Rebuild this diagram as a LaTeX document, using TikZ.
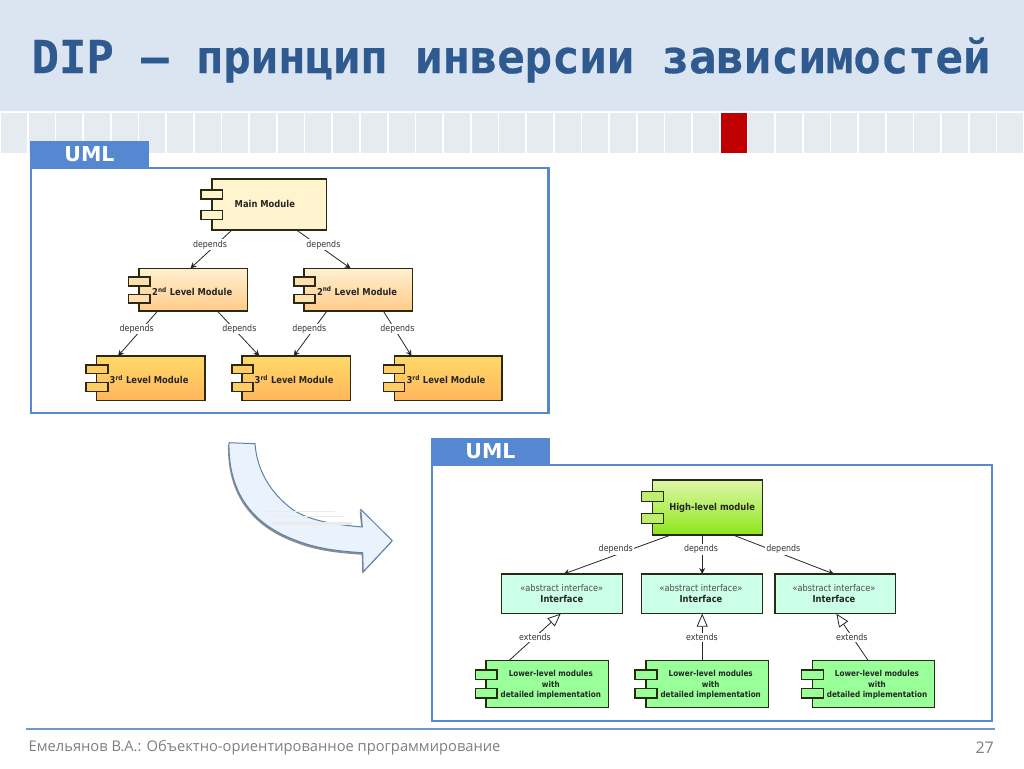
\documentclass[tikz,border=0pt]{standalone}
\usepackage{fontspec}
\setmainfont{DejaVu Sans}
\newfontfamily\titlemono[BoldFeatures={FakeBold=0.6}]{DejaVu Sans Mono}
\newfontfamily\footfont{Open Sans}
\newfontfamily\umlfont[FakeStretch=0.88]{DejaVu Sans}
\usetikzlibrary{arrows.meta}
\definecolor{bandblue}{HTML}{DBE5F1}
\definecolor{cellgrey}{HTML}{E6EAF1}
\definecolor{cellred}{HTML}{C00000}
\definecolor{titleblue}{HTML}{2F5A8F}
\definecolor{framecol}{HTML}{5588D0}
\definecolor{boxline}{HTML}{2A2A14}
\definecolor{footline}{HTML}{7098C8}
\definecolor{foottext}{HTML}{7F7F7F}
\definecolor{arrfill}{HTML}{EAF2FB}
\definecolor{arrline}{HTML}{5F82A8}
\definecolor{mainfill}{HTML}{FFF4CE}
\definecolor{twotop}{HTML}{FFF0D2}
\definecolor{twobot}{HTML}{FFCB88}
\definecolor{twotab}{HTML}{FFDFAE}
\definecolor{threetop}{HTML}{FFD966}
\definecolor{threebot}{HTML}{FFB65E}
\definecolor{threetab}{HTML}{FFCC66}
\definecolor{hightop}{HTML}{DDF7A8}
\definecolor{highbot}{HTML}{8EE61A}
\definecolor{hightab}{HTML}{BDEE70}
\definecolor{ifacefill}{HTML}{CCFFE8}
\definecolor{lowfill}{HTML}{99FF99}
\tikzset{
  compbody/.style={draw=boxline,line width=1.4pt,inner sep=0pt,outer sep=0pt,rectangle},
  comptab/.style={draw=boxline,line width=1.4pt,inner sep=0pt,outer sep=0pt,rectangle},
  frame/.style={draw=framecol,line width=2.6pt,fill=white,rectangle,inner sep=0pt,outer sep=0pt},
  tabbox/.style={fill=framecol,rectangle,inner sep=0pt,outer sep=0pt,font=\bfseries\fontsize{20.5}{22}\selectfont,text=white},
  cname/.style={font=\umlfont\bfseries\fontsize{9.5}{10.4}\selectfont,text=black!85,align=center,inner sep=0pt},
  lname/.style={font=\umlfont\bfseries\fontsize{8.2}{10.2}\selectfont,text=black!85,align=center,inner sep=0pt},
  stereo/.style={font=\umlfont\fontsize{9.3}{10}\selectfont,text=black!70,inner sep=0pt},
  dep/.style={font=\umlfont\fontsize{9}{10}\selectfont,text=black!80,fill=white,inner sep=1pt},
  conn/.style={draw=black!85,line width=0.8pt,-{Stealth[length=6pt,width=6pt]}},
  ext/.style={draw=black!85,line width=0.8pt,-{Triangle[open,length=13pt,width=11pt,fill=white]}},
  cell/.style={fill=cellgrey,rectangle,inner sep=0pt,outer sep=0pt,minimum width=26pt,minimum height=40pt,anchor=north west},
}
\newcommand{\compbox}[6]{\node[compbody,#6,anchor=north west,minimum width=#4pt-#2pt,minimum height=#5pt-#3pt] (#1) at (#2,#3) {};}
\newcommand{\tabrect}[6]{\node[comptab,fill=#6,anchor=north west,minimum width=#4pt-#2pt,minimum height=#5pt-#3pt] (#1) at (#2,#3) {};}
\newcommand{\curvedshape}{
  (229,442.7) -- (255,443.7)
  .. controls (257,470) and (270,493) .. (293.3,510)
  .. controls (312,522) and (340,525) .. (362.3,527)
  -- (360.7,509.3) -- (392.3,540.7) -- (363.3,571.7) -- (362.7,552.7)
  .. controls (335,551) and (315,548) .. (295,540)
  .. controls (255,525) and (228,495) .. (229,442.7) -- cycle}
\begin{document}
\begin{tikzpicture}[x=1pt,y=-1pt]
\useasboundingbox (0,0) rectangle (1024,768);
\fill[white] (0,0) rectangle (1024,768);
\fill[bandblue] (0,0) rectangle (1024,111);
\node[font=\titlemono\bfseries\fontsize{45.5}{50}\selectfont,text=titleblue,inner sep=0pt,anchor=center] (title) at (511,60) {DIP — принцип инверсии зависимостей};
\foreach \i in {0,...,36}{
  \pgfmathsetmacro{\cx}{1+27.68*\i}
  \ifnum\i=26\relax
    \node[cell,fill=cellred] (cell\i) at (\cx,113) {};
  \else
    \node[cell] (cell\i) at (\cx,113) {};
  \fi
}
% frames
\node[frame,anchor=north west,minimum width=517.5pt,minimum height=245pt] (frameA) at (31,168) {};
\node[tabbox,anchor=north west,minimum width=119pt,minimum height=27pt] (tabA) at (30,141) {UML};
\node[frame,anchor=north west,minimum width=560pt,minimum height=256pt] (frameB) at (432,465) {};
\node[tabbox,anchor=north west,minimum width=119pt,minimum height=27pt] (tabB) at (431,438) {UML};
% curved arrow
\path[fill=black!45,xshift=-1pt,yshift=-2pt] \curvedshape;
\path[fill=arrfill,draw=arrline,line width=1pt,line join=round] \curvedshape;
\fill[black!8] (262,511) rectangle (335,512);
\fill[black!8] (268,516) rectangle (345,517);
\fill[black!8] (272,522) rectangle (352,524.5);
% first diagram
\compbox{main}{212}{179}{326.5}{230}{fill=mainfill}
\tabrect{mainTa}{200.8}{190}{222.5}{199}{mainfill}
\tabrect{mainTb}{200.8}{210.3}{222.5}{219.7}{mainfill}
\node[cname] (mainL) at (264.8,204) {Main Module};
\compbox{twoA}{138.8}{268.3}{247.3}{311}{top color=twotop,bottom color=twobot}
\tabrect{twoATa}{128.5}{277}{149.8}{286}{twotab}
\tabrect{twoATb}{128.5}{294.3}{149.8}{303}{twotab}
\node[cname] (twoAL) at (192.2,291.5) {2\textsuperscript{nd} Level Module};
\compbox{twoB}{304}{268.3}{412.6}{311}{top color=twotop,bottom color=twobot}
\tabrect{twoBTa}{293.8}{277}{315}{286}{twotab}
\tabrect{twoBTb}{293.8}{294.3}{315}{303}{twotab}
\node[cname] (twoBL) at (357,291) {2\textsuperscript{nd} Level Module};
\compbox{thrA}{96.4}{356}{205}{400.3}{top color=threetop,bottom color=threebot}
\tabrect{thrATa}{86}{365}{107.8}{373.7}{threetab}
\tabrect{thrATb}{86}{382.7}{107.8}{391.7}{threetab}
\node[cname] (thrAL) at (149.1,379.5) {3\textsuperscript{rd} Level Module};
\compbox{thrB}{242}{356}{350.6}{400.3}{top color=threetop,bottom color=threebot}
\tabrect{thrBTa}{231.8}{365}{253}{373.7}{threetab}
\tabrect{thrBTb}{231.8}{382.7}{253}{391.7}{threetab}
\node[cname] (thrBL) at (294.1,379.5) {3\textsuperscript{rd} Level Module};
\compbox{thrC}{394.3}{356}{502}{400.3}{top color=threetop,bottom color=threebot}
\tabrect{thrCTa}{383.3}{365}{404.6}{373.7}{threetab}
\tabrect{thrCTb}{383.3}{382.7}{404.6}{391.7}{threetab}
\node[cname] (thrCL) at (446,379.5) {3\textsuperscript{rd} Level Module};
\draw[conn] ([xshift=20pt]main.south west) -- ([xshift=51.7pt]twoA.north west);
\draw[conn] ([xshift=84.5pt]main.south west) -- ([xshift=46.6pt]twoB.north west);
\draw[conn] ([xshift=18.9pt]twoA.south west) -- ([xshift=21.6pt]thrA.north west);
\draw[conn] ([xshift=78.5pt]twoA.south west) -- ([xshift=17.3pt]thrB.north west);
\draw[conn] ([xshift=23pt]twoB.south west) -- ([xshift=51.8pt]thrB.north west);
\draw[conn] ([xshift=79.3pt]twoB.south west) -- ([xshift=17.2pt]thrC.north west);
\node[dep] (d1) at (210,244.7) {depends};
\node[dep] (d2) at (323.4,244.7) {depends};
\node[dep] (d3) at (136.7,329) {depends};
\node[dep] (d4) at (239.4,329) {depends};
\node[dep] (d5) at (309.3,329) {depends};
\node[dep] (d6) at (397.4,329) {depends};
% second diagram
\compbox{high}{652.4}{480}{762.4}{535}{top color=hightop,bottom color=highbot}
\tabrect{highTa}{641.7}{491.7}{663.4}{501.3}{hightab}
\tabrect{highTb}{641.7}{513.7}{663.4}{523.3}{hightab}
\node[cname] (highL) at (712.1,508.3) {High-level module};
\compbox{ifA}{501.6}{574}{622.3}{613.7}{fill=ifacefill}
\compbox{ifB}{641.7}{574}{762.4}{613.7}{fill=ifacefill}
\compbox{ifC}{774.8}{574}{895.5}{613.7}{fill=ifacefill}
\node[stereo] (ifAs) at (561.8,588.3) {«abstract interface»};
\node[cname] (ifAL) at (561.8,599.3) {Interface};
\node[stereo] (ifBs) at (701,588.3) {«abstract interface»};
\node[cname] (ifBL) at (701,599.3) {Interface};
\node[stereo] (ifCs) at (834,588.3) {«abstract interface»};
\node[cname] (ifCL) at (834,599.3) {Interface};
\compbox{lowA}{485.9}{660.3}{608.4}{707.7}{fill=lowfill}
\tabrect{lowATa}{475.2}{670}{496.9}{679.3}{lowfill}
\tabrect{lowATb}{475.2}{688.7}{496.9}{698}{lowfill}
\node[lname] (lowAL) at (550.8,684.8) {Lower-level modules\\with\\detailed implementation};
\compbox{lowB}{645.8}{660.3}{768.6}{707.7}{fill=lowfill}
\tabrect{lowBTa}{635}{670}{656.8}{679.3}{lowfill}
\tabrect{lowBTb}{635}{688.7}{656.8}{698}{lowfill}
\node[lname] (lowBL) at (710.7,684.8) {Lower-level modules\\with\\detailed implementation};
\compbox{lowC}{812.2}{660.3}{934.7}{707.7}{fill=lowfill}
\tabrect{lowCTa}{801.6}{670}{823.2}{679.3}{lowfill}
\tabrect{lowCTb}{801.6}{688.7}{823.2}{698}{lowfill}
\node[lname] (lowCL) at (877,684.8) {Lower-level modules\\with\\detailed implementation};
\draw[conn] ([xshift=18.3pt]high.south west) -- ([xshift=62pt]ifA.north west);
\draw[conn] ([xshift=49.8pt]high.south west) -- ([xshift=60.5pt]ifB.north west);
\draw[conn] ([xshift=80.6pt]high.south west) -- ([xshift=59.1pt]ifC.north west);
\draw[ext] ([xshift=23.4pt]lowA.north west) -- ([xshift=59.1pt]ifA.south west);
\draw[ext] ([xshift=56.4pt]lowB.north west) -- ([xshift=60.5pt]ifB.south west);
\draw[ext] ([xshift=55.8pt]lowC.north west) -- ([xshift=61.6pt]ifC.south west);
\node[dep] (e1) at (615.7,549.5) {depends};
\node[dep] (e2) at (701,549.5) {depends};
\node[dep] (e3) at (783.3,549.5) {depends};
\node[dep] (x1) at (535,637.5) {extends};
\node[dep] (x2) at (701.9,637.5) {extends};
\node[dep] (x3) at (851.8,637.5) {extends};
% footer
\coordinate (footL) at (26,729);
\coordinate (footR) at (995,729);
\draw[footline,line width=1.4pt] (footL) -- (footR);
\node[font=\footfont\fontsize{14.7}{16}\selectfont,text=foottext,inner sep=0pt,anchor=west] (foot) at (28.5,748) {Емельянов В.А.: Объектно-ориентированное программирование};
\node[font=\footfont\fontsize{16}{18}\selectfont,text=foottext,inner sep=0pt,anchor=east] (page) at (994,748) {27};
\end{tikzpicture}
\end{document}
